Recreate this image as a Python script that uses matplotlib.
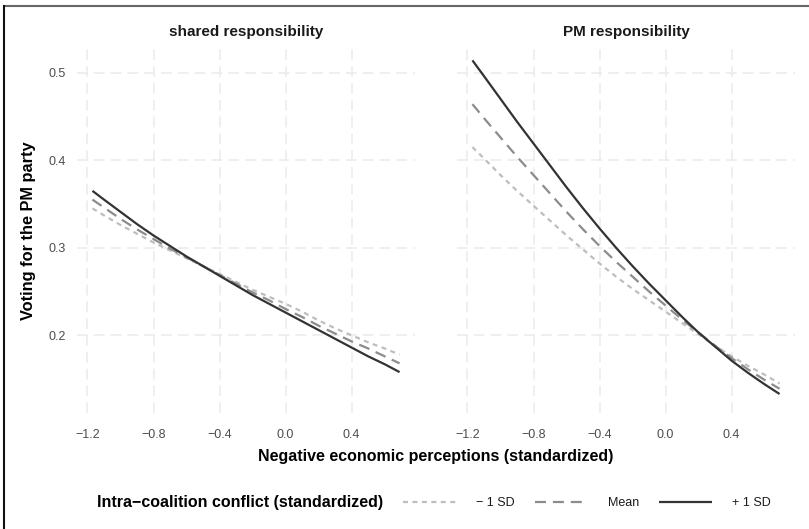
import matplotlib
matplotlib.use("Agg")
import matplotlib.pyplot as plt
from matplotlib.lines import Line2D

plt.rcParams['font.family'] = ['Liberation Sans', 'DejaVu Sans']

# ---------------- data ----------------
panels = ["shared responsibility", "PM responsibility"]
x_vals = [-1.17, -1.1, -1.0, -0.9, -0.8, -0.7, -0.6, -0.5, -0.4, -0.3,
          -0.2, -0.1, 0.0, 0.1, 0.2, 0.3, 0.4, 0.5, 0.6, 0.69]

shared_minus = [0.345, 0.337, 0.326, 0.316, 0.306, 0.297, 0.288, 0.279, 0.270, 0.261,
                0.252, 0.244, 0.236, 0.227, 0.217, 0.208, 0.200, 0.192, 0.185, 0.178]
shared_mean  = [0.355, 0.346, 0.333, 0.321, 0.310, 0.299, 0.289, 0.279, 0.269, 0.259,
                0.249, 0.240, 0.230, 0.221, 0.211, 0.202, 0.193, 0.185, 0.176, 0.168]
shared_plus  = [0.365, 0.355, 0.341, 0.327, 0.314, 0.302, 0.290, 0.279, 0.268, 0.257,
                0.246, 0.236, 0.226, 0.216, 0.206, 0.196, 0.186, 0.176, 0.167, 0.158]

pm_minus = [0.415, 0.402, 0.383, 0.365, 0.348, 0.331, 0.314, 0.298, 0.282, 0.267,
            0.253, 0.240, 0.227, 0.214, 0.201, 0.188, 0.176, 0.165, 0.155, 0.145]
pm_mean  = [0.464, 0.448, 0.426, 0.404, 0.383, 0.362, 0.341, 0.321, 0.302, 0.284,
            0.267, 0.250, 0.234, 0.218, 0.203, 0.188, 0.174, 0.161, 0.149, 0.139]
pm_plus  = [0.514, 0.496, 0.470, 0.444, 0.419, 0.394, 0.369, 0.345, 0.322, 0.300,
            0.279, 0.259, 0.240, 0.221, 0.203, 0.187, 0.171, 0.157, 0.144, 0.133]

series_labels = ["\u2212 1 SD", "Mean", "+ 1 SD"]
x_ticks = [-1.2, -0.8, -0.4, 0.0, 0.4]
x_ticklabels = ["\u22121.2", "\u22120.8", "\u22120.4", "0.0", "0.4"]
y_ticks = [0.2, 0.3, 0.4, 0.5]
y_ticklabels = ["0.2", "0.3", "0.4", "0.5"]

panel_data = [
    [shared_minus, shared_mean, shared_plus],
    [pm_minus, pm_mean, pm_plus],
]

# ---------------- style ----------------
colors = ["#BEBEBE", "#8C8C8C", "#333333"]
lw = 1.6
styles = [(0, (2.25, 2.0)), (0, (4.95, 3.1)), "solid"]
grid_color = "#EBEBEB"
tick_color = "#4D4D4D"
text_color = "#1A1A1A"

W, H = 809, 529
fig = plt.figure(figsize=(W / 100, H / 100), dpi=100)

def px_axes(x0, y0, x1, y1):
    return fig.add_axes([x0 / W, 1 - y1 / H, (x1 - x0) / W, (y1 - y0) / H])

ax_boxes = [(77, 44, 415, 413), (457, 44, 795, 413)]
axes = []
for i, box in enumerate(ax_boxes):
    ax = px_axes(*box)
    axes.append(ax)
    handles = []
    for j, ys in enumerate(panel_data[i]):
        h, = ax.plot(x_vals, ys, color=colors[j], lw=lw, linestyle=styles[j],
                     solid_capstyle="butt", dash_capstyle="butt",
                     solid_joinstyle="round", label=series_labels[j])
        handles.append(h)
    ax.set_xlim(-1.2635, 0.7835)
    ax.set_ylim(0.1113, 0.5327)
    ax.set_xticks(x_ticks)
    ax.set_xticklabels(x_ticklabels)
    ax.set_yticks(y_ticks)
    if i == 0:
        ax.set_yticklabels(y_ticklabels)
    else:
        ax.set_yticklabels([])
    ax.grid(True, color=grid_color, lw=1.1, linestyle=(0, (7, 4)))
    ax.set_axisbelow(True)
    for s in ax.spines.values():
        s.set_visible(False)
    ax.tick_params(length=0, colors=tick_color, labelsize=9)
    ax.tick_params(axis="x", pad=11.5)
    ax.tick_params(axis="y", pad=8)
    ax.set_title(panels[i], fontsize=11, fontweight="bold", color=text_color, pad=5.5)

fig.text(436 / W, 1 - 456 / H, "Negative economic perceptions (standardized)",
         ha="center", va="center", fontsize=11.5, fontweight="bold", color="black")
fig.text(29 / W, 1 - 231 / H, "Voting for the PM party", rotation=90,
         ha="center", va="center", fontsize=11.8, fontweight="bold", color="black")

# legend
fig.text(97 / W, 1 - 503 / H, "Intra\u2212coalition conflict (standardized)",
         ha="left", va="center", fontsize=11.5, fontweight="bold", color="black")
leg = fig.legend(handles=handles, labels=series_labels, ncol=3, frameon=False,
                 loc="center left", bbox_to_anchor=(403 / W, 1 - 503 / H),
                 fontsize=9, handlelength=4.2, handletextpad=1.65, columnspacing=1.6,
                 borderpad=0, borderaxespad=0, labelcolor=text_color)

# frame lines (top and left)
fig.add_artist(Line2D([4 / W, 1], [1 - 6 / H, 1 - 6 / H], transform=fig.transFigure,
                      color="#666666", lw=1.5))
fig.add_artist(Line2D([4 / W, 4 / W], [0, 1 - 6 / H], transform=fig.transFigure,
                      color="#111111", lw=1.5))

fig.savefig("out.png", dpi=100, facecolor="white")
